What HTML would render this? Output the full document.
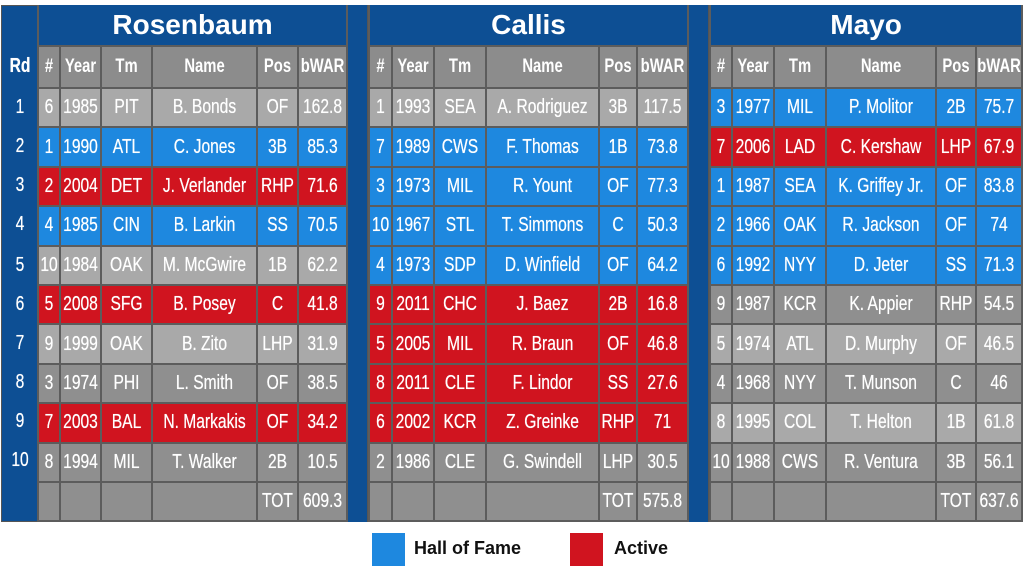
<!DOCTYPE html>
<html><head><meta charset="utf-8"><style>
body{margin:0;width:1024px;height:576px;background:#fff;position:relative;overflow:hidden;font-family:"Liberation Sans",sans-serif;}
.bg{position:absolute;left:1px;top:5px;width:1020px;height:517px;background:#0d4f94;border:1px solid #555;box-sizing:border-box}
table{position:absolute;border-collapse:collapse;table-layout:fixed;color:#fff}
td{border:2px solid #5c5c5c;text-align:center;padding:0;font-size:20px;white-space:nowrap}
td i{font-style:normal;display:block;margin:0 -30px;transform:scaleX(.78);text-shadow:0 0 0.6px #fff}
tr.t td{background:#0d4f94;font-weight:bold;font-size:28px;height:40px;border-top:none}
tr.h td{background:#8c8c8c;font-weight:bold;height:40px;font-size:19px}
tr.h td i{text-shadow:none}
tr.r td{height:37.4px}
.L td{background:#a9a9a9}.D td{background:#8f8f8f}.B td{background:#1e88df}.R td{background:#d0141f}
.sep{position:absolute;top:5px;height:517px;background:#0d4f94;border-left:2px solid #555;border-right:2px solid #555;box-sizing:border-box}
.rd{position:absolute;left:2px;width:36px;color:#fff;text-align:center;font-size:20px}
.rd i{font-style:normal;display:block;transform:scaleX(.78);text-shadow:0 0 0.6px #fff}
.leg{position:absolute;top:533px;width:33px;height:33px}
.lt{position:absolute;top:538px;font-weight:bold;font-size:18px;color:#111}
</style></head><body>
<div class="bg"></div>
<div class="sep" style="left:345px;width:24px"></div>
<div class="sep" style="left:686px;width:24px"></div>
<div class="rd" style="top:55px;font-weight:bold"><i>Rd</i></div>
<div class="rd" style="top:96px"><i>1</i></div><div class="rd" style="top:135px"><i>2</i></div><div class="rd" style="top:174px"><i>3</i></div><div class="rd" style="top:213px"><i>4</i></div><div class="rd" style="top:254px"><i>5</i></div><div class="rd" style="top:293px"><i>6</i></div><div class="rd" style="top:332px"><i>7</i></div><div class="rd" style="top:371px"><i>8</i></div><div class="rd" style="top:410px"><i>9</i></div><div class="rd" style="top:449px"><i>10</i></div>

<table style="left:37px;top:5px;width:309px">
<colgroup><col style="width:22px"><col style="width:41px"><col style="width:51px"><col style="width:105px"><col style="width:41px"><col style="width:49px"></colgroup>
<tr class="t"><td colspan="6">Rosenbaum</td></tr>
<tr class="h"><td><i>#</i></td><td><i>Year</i></td><td><i>Tm</i></td><td><i>Name</i></td><td><i>Pos</i></td><td><i>bWAR</i></td></tr>
<tr class="r L"><td><i>6</i></td><td><i>1985</i></td><td><i>PIT</i></td><td><i>B. Bonds</i></td><td><i>OF</i></td><td><i>162.8</i></td></tr>
<tr class="r B"><td><i>1</i></td><td><i>1990</i></td><td><i>ATL</i></td><td><i>C. Jones</i></td><td><i>3B</i></td><td><i>85.3</i></td></tr>
<tr class="r R"><td><i>2</i></td><td><i>2004</i></td><td><i>DET</i></td><td><i>J. Verlander</i></td><td><i>RHP</i></td><td><i>71.6</i></td></tr>
<tr class="r B"><td><i>4</i></td><td><i>1985</i></td><td><i>CIN</i></td><td><i>B. Larkin</i></td><td><i>SS</i></td><td><i>70.5</i></td></tr>
<tr class="r L"><td><i>10</i></td><td><i>1984</i></td><td><i>OAK</i></td><td><i>M. McGwire</i></td><td><i>1B</i></td><td><i>62.2</i></td></tr>
<tr class="r R"><td><i>5</i></td><td><i>2008</i></td><td><i>SFG</i></td><td><i>B. Posey</i></td><td><i>C</i></td><td><i>41.8</i></td></tr>
<tr class="r L"><td><i>9</i></td><td><i>1999</i></td><td><i>OAK</i></td><td><i>B. Zito</i></td><td><i>LHP</i></td><td><i>31.9</i></td></tr>
<tr class="r D"><td><i>3</i></td><td><i>1974</i></td><td><i>PHI</i></td><td><i>L. Smith</i></td><td><i>OF</i></td><td><i>38.5</i></td></tr>
<tr class="r R"><td><i>7</i></td><td><i>2003</i></td><td><i>BAL</i></td><td><i>N. Markakis</i></td><td><i>OF</i></td><td><i>34.2</i></td></tr>
<tr class="r D"><td><i>8</i></td><td><i>1994</i></td><td><i>MIL</i></td><td><i>T. Walker</i></td><td><i>2B</i></td><td><i>10.5</i></td></tr>
<tr class="r D"><td></td><td></td><td></td><td></td><td><i>TOT</i></td><td><i>609.3</i></td></tr>
</table>

<table style="left:368px;top:5px;width:319px">
<colgroup><col style="width:23px"><col style="width:42px"><col style="width:52px"><col style="width:113px"><col style="width:38px"><col style="width:51px"></colgroup>
<tr class="t"><td colspan="6">Callis</td></tr>
<tr class="h"><td><i>#</i></td><td><i>Year</i></td><td><i>Tm</i></td><td><i>Name</i></td><td><i>Pos</i></td><td><i>bWAR</i></td></tr>
<tr class="r L"><td><i>1</i></td><td><i>1993</i></td><td><i>SEA</i></td><td><i>A. Rodriguez</i></td><td><i>3B</i></td><td><i>117.5</i></td></tr>
<tr class="r B"><td><i>7</i></td><td><i>1989</i></td><td><i>CWS</i></td><td><i>F. Thomas</i></td><td><i>1B</i></td><td><i>73.8</i></td></tr>
<tr class="r B"><td><i>3</i></td><td><i>1973</i></td><td><i>MIL</i></td><td><i>R. Yount</i></td><td><i>OF</i></td><td><i>77.3</i></td></tr>
<tr class="r B"><td><i>10</i></td><td><i>1967</i></td><td><i>STL</i></td><td><i>T. Simmons</i></td><td><i>C</i></td><td><i>50.3</i></td></tr>
<tr class="r B"><td><i>4</i></td><td><i>1973</i></td><td><i>SDP</i></td><td><i>D. Winfield</i></td><td><i>OF</i></td><td><i>64.2</i></td></tr>
<tr class="r R"><td><i>9</i></td><td><i>2011</i></td><td><i>CHC</i></td><td><i>J. Baez</i></td><td><i>2B</i></td><td><i>16.8</i></td></tr>
<tr class="r R"><td><i>5</i></td><td><i>2005</i></td><td><i>MIL</i></td><td><i>R. Braun</i></td><td><i>OF</i></td><td><i>46.8</i></td></tr>
<tr class="r R"><td><i>8</i></td><td><i>2011</i></td><td><i>CLE</i></td><td><i>F. Lindor</i></td><td><i>SS</i></td><td><i>27.6</i></td></tr>
<tr class="r R"><td><i>6</i></td><td><i>2002</i></td><td><i>KCR</i></td><td><i>Z. Greinke</i></td><td><i>RHP</i></td><td><i>71</i></td></tr>
<tr class="r D"><td><i>2</i></td><td><i>1986</i></td><td><i>CLE</i></td><td><i>G. Swindell</i></td><td><i>LHP</i></td><td><i>30.5</i></td></tr>
<tr class="r D"><td></td><td></td><td></td><td></td><td><i>TOT</i></td><td><i>575.8</i></td></tr>
</table>

<table style="left:709px;top:5px;width:312px">
<colgroup><col style="width:22px"><col style="width:42px"><col style="width:52px"><col style="width:110px"><col style="width:40px"><col style="width:46px"></colgroup>
<tr class="t"><td colspan="6">Mayo</td></tr>
<tr class="h"><td><i>#</i></td><td><i>Year</i></td><td><i>Tm</i></td><td><i>Name</i></td><td><i>Pos</i></td><td><i>bWAR</i></td></tr>
<tr class="r B"><td><i>3</i></td><td><i>1977</i></td><td><i>MIL</i></td><td><i>P. Molitor</i></td><td><i>2B</i></td><td><i>75.7</i></td></tr>
<tr class="r R"><td><i>7</i></td><td><i>2006</i></td><td><i>LAD</i></td><td><i>C. Kershaw</i></td><td><i>LHP</i></td><td><i>67.9</i></td></tr>
<tr class="r B"><td><i>1</i></td><td><i>1987</i></td><td><i>SEA</i></td><td><i>K. Griffey Jr.</i></td><td><i>OF</i></td><td><i>83.8</i></td></tr>
<tr class="r B"><td><i>2</i></td><td><i>1966</i></td><td><i>OAK</i></td><td><i>R. Jackson</i></td><td><i>OF</i></td><td><i>74</i></td></tr>
<tr class="r B"><td><i>6</i></td><td><i>1992</i></td><td><i>NYY</i></td><td><i>D. Jeter</i></td><td><i>SS</i></td><td><i>71.3</i></td></tr>
<tr class="r D"><td><i>9</i></td><td><i>1987</i></td><td><i>KCR</i></td><td><i>K. Appier</i></td><td><i>RHP</i></td><td><i>54.5</i></td></tr>
<tr class="r L"><td><i>5</i></td><td><i>1974</i></td><td><i>ATL</i></td><td><i>D. Murphy</i></td><td><i>OF</i></td><td><i>46.5</i></td></tr>
<tr class="r D"><td><i>4</i></td><td><i>1968</i></td><td><i>NYY</i></td><td><i>T. Munson</i></td><td><i>C</i></td><td><i>46</i></td></tr>
<tr class="r L"><td><i>8</i></td><td><i>1995</i></td><td><i>COL</i></td><td><i>T. Helton</i></td><td><i>1B</i></td><td><i>61.8</i></td></tr>
<tr class="r D"><td><i>10</i></td><td><i>1988</i></td><td><i>CWS</i></td><td><i>R. Ventura</i></td><td><i>3B</i></td><td><i>56.1</i></td></tr>
<tr class="r D"><td></td><td></td><td></td><td></td><td><i>TOT</i></td><td><i>637.6</i></td></tr>
</table>

<div class="leg" style="left:372px;background:#1e88df"></div><div class="lt" style="left:414px">Hall of Fame</div>
<div class="leg" style="left:570px;background:#d0141f"></div><div class="lt" style="left:614px">Active</div>
</body></html>
